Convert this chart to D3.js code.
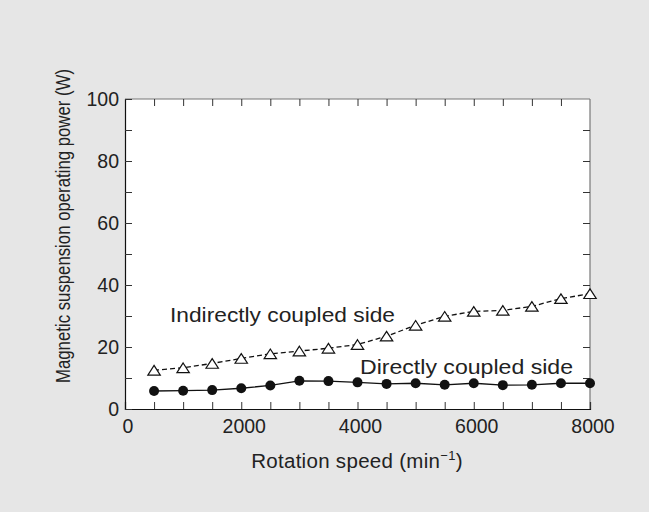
<!DOCTYPE html>
<html><head><meta charset="utf-8">
<script src="https://cdn.jsdelivr.net/npm/d3@7"></script>
<style>
html,body{margin:0;padding:0;background:#e6e6e6;}
svg{display:block;font-family:"Liberation Sans",Arial,sans-serif;}
</style></head>
<body>
<svg id="c" width="649" height="512"></svg>
<script>
const speeds = [500,1000,1500,2000,2500,3000,3500,4000,4500,5000,5500,6000,6500,7000,7500,8000];
const indirect = [12.5,13.3,14.7,16.3,17.8,18.7,19.6,20.8,23.5,27.0,29.9,31.5,31.8,33.1,35.6,37.2];
const direct = [5.8,5.9,6.1,6.7,7.6,9.1,9.0,8.6,8.1,8.3,7.8,8.3,7.7,7.8,8.3,8.3];
const xTicks = [0,2000,4000,6000,8000];
const yTicks = [0,20,40,60,80,100];
const xMinor = d3.range(0,8001,500);
const yMinor = d3.range(0,101,10);

const svg = d3.select("#c");
const L=125,R=590,T=99,B=409;
const x = d3.scaleLinear().domain([0,8000]).range([L,R]);
const y = d3.scaleLinear().domain([0,100]).range([B,T]);
const txt = "#222";

svg.append("rect").attr("x",L).attr("y",T).attr("width",R-L).attr("height",B-T).attr("fill","#fff");

// frame
svg.append("line").attr("x1",L).attr("x2",R).attr("y1",T).attr("y2",T).attr("stroke","#777").attr("stroke-width",1.2);
svg.append("line").attr("x1",R).attr("x2",R).attr("y1",T).attr("y2",B).attr("stroke","#777").attr("stroke-width",1.2);

// bottom axis
const gx = svg.append("g").attr("transform",`translate(0,${B})`)
  .call(d3.axisBottom(x).tickValues(xMinor).tickSize(-7).tickFormat(""));
gx.select(".domain").attr("stroke","#111").attr("stroke-width",1.2);
gx.selectAll(".tick line").attr("stroke","#333");
svg.append("g").attr("transform",`translate(2.5,${B})`)
  .call(d3.axisBottom(x).tickValues(xTicks).tickSize(0).tickPadding(10).tickFormat(d3.format("d")))
  .call(g=>{g.select(".domain").remove();g.selectAll("text").attr("font-size",19.5).attr("fill",txt).attr("font-family","inherit").attr("dy","0.71em");});
// top ticks
const gt = svg.append("g").attr("transform",`translate(0,${T})`)
  .call(d3.axisTop(x).tickValues(xMinor.filter(d=>d>0&&d<8000)).tickSize(-7).tickFormat(""));
gt.select(".domain").remove(); gt.selectAll(".tick line").attr("stroke","#333");

// left axis
const gy = svg.append("g").attr("transform",`translate(${L},0)`)
  .call(d3.axisLeft(y).tickValues(yMinor).tickSize(-7).tickFormat(""));
gy.select(".domain").attr("stroke","#111").attr("stroke-width",1.2);
gy.selectAll(".tick line").attr("stroke","#333");
svg.append("g").attr("transform",`translate(${L},0)`)
  .call(d3.axisLeft(y).tickValues(yTicks).tickSize(0).tickPadding(6).tickFormat(d3.format("d")))
  .call(g=>{g.select(".domain").remove();g.selectAll("text").attr("font-size",19.5).attr("fill",txt).attr("font-family","inherit");});
// right ticks
const gr = svg.append("g").attr("transform",`translate(${R},0)`)
  .call(d3.axisRight(y).tickValues(yMinor.filter(d=>d>0&&d<100)).tickSize(-7).tickFormat(""));
gr.select(".domain").remove(); gr.selectAll(".tick line").attr("stroke","#333");

// lines
const line = d3.line().x(d=>x(d[0])).y(d=>y(d[1]));
const indData = speeds.map((s,i)=>[s,indirect[i]]);
const dirData = speeds.map((s,i)=>[s,direct[i]]);
svg.append("path").datum(indData).attr("d",line).attr("fill","none").attr("stroke","#111").attr("stroke-width",1.3).attr("stroke-dasharray","5,3");
svg.append("path").datum(dirData).attr("d",line).attr("fill","none").attr("stroke","#111").attr("stroke-width",1.3);

const tri = "M0,-4.8L6.2,4.8L-6.2,4.8Z";
svg.append("g").selectAll("path").data(indData).join("path")
  .attr("transform",d=>`translate(${x(d[0])},${y(d[1])})`)
  .attr("d",tri)
  .attr("fill","#fff").attr("stroke","#111").attr("stroke-width",1.2);
svg.append("g").selectAll("circle").data(dirData).join("circle")
  .attr("cx",d=>x(d[0])).attr("cy",d=>y(d[1])).attr("r",5).attr("fill","#111");

// annotations
svg.append("text").attr("x",170).attr("y",322).attr("font-size",20.5).attr("fill",txt)
  .attr("textLength",225).attr("lengthAdjust","spacingAndGlyphs").text("Indirectly coupled side");
svg.append("text").attr("x",360).attr("y",374).attr("font-size",20.5).attr("fill",txt)
  .attr("textLength",213).attr("lengthAdjust","spacingAndGlyphs").text("Directly coupled side");

// axis titles
const xt = svg.append("text").attr("x",357).attr("y",468).attr("text-anchor","middle").attr("font-size",20.5).attr("fill",txt).attr("letter-spacing",0.3);
xt.append("tspan").text("Rotation speed (min");
xt.append("tspan").text("−1").attr("font-size",13).attr("dy",-8);
xt.append("tspan").text(")").attr("dy",8);
svg.append("text").attr("transform","translate(70,226) rotate(-90)").attr("text-anchor","middle").attr("font-size",19.5).attr("fill",txt)
  .attr("textLength",314).attr("lengthAdjust","spacingAndGlyphs")
  .text("Magnetic suspension operating power (W)");
</script>
</body></html>
